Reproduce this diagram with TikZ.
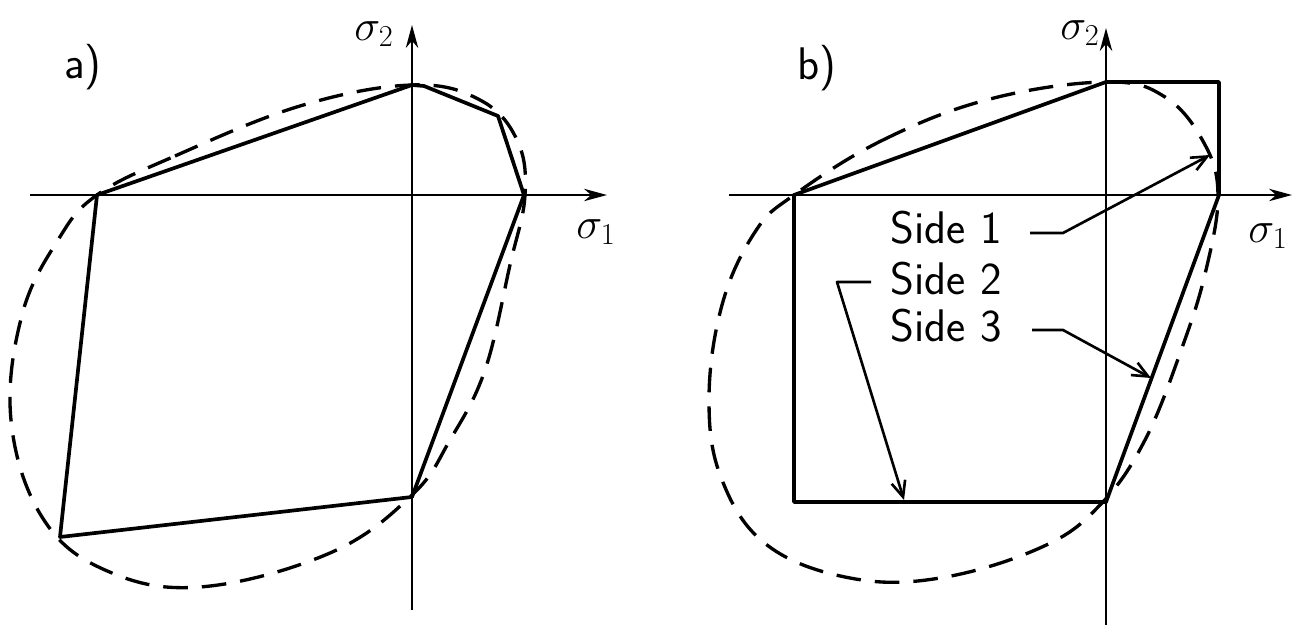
\documentclass[tikz,border=0pt]{standalone}
\usepackage{fontspec}
\usetikzlibrary{arrows.meta}
\begin{document}
\begin{tikzpicture}[x=0.02cm,y=-0.02cm,
  axis/.style={line width=1.6pt,-{Stealth[length=13pt,width=7pt,inset=4pt]}},
  edge/.style={line width=2.1pt,line join=round,line cap=round},
  env/.style={line width=1.9pt,dash pattern=on 14pt off 8pt},
  leader/.style={line width=1.5pt,line join=round,-{Straight Barb[length=9pt,width=8pt]}},
  lbl/.style={font=\sffamily\fontsize{26}{30}\selectfont,inner sep=0pt},
  sig/.style={font=\fontsize{27}{31}\selectfont,inner sep=0pt}]
\useasboundingbox (0,0) rectangle (1302,641);

% ---------- panel a ----------
\coordinate (aYb) at (412,610);
\coordinate (aYt) at (412,25);
\coordinate (aXl) at (30,195);
\coordinate (aXr) at (607,195);
\draw[axis] (aYb) -- (aYt);
\draw[axis] (aXl) -- (aXr);
\node[sig] (as2) at (374,34) {$\sigma_2$};
\node[sig] (as1) at (596,232) {$\sigma_1$};
\node[lbl] (alab) at (83,67) {a)};

\coordinate (a1) at (97,195);
\coordinate (a2) at (412,85);
\coordinate (a2b) at (424,86);
\coordinate (a3) at (498,116);
\coordinate (a4) at (524,195);
\coordinate (a5) at (412,497);
\coordinate (a6) at (60,537);
\draw[edge] (a1) -- (a2) -- (a2b) -- (a3) -- (a4) -- (a5) -- (a6) -- cycle;

\draw[env] plot[smooth cycle, tension=0.65] coordinates {
 (97,195) (175,156) (300,106) (412,85) (480,100) (517,140) (525,195)
 (510,265) (485,370) (450,440) (412,495) (330,553) (200,587) (105,570)
 (42,517) (11,420) (22,315) (58,240)};

% ---------- panel b ----------
\coordinate (bYb) at (1106,625);
\coordinate (bYt) at (1106,28);
\coordinate (bXl) at (729,195);
\coordinate (bXr) at (1292,195);
\draw[axis] (bYb) -- (bYt);
\draw[axis] (bXl) -- (bXr);
\node[sig] (bs2) at (1080,33) {$\sigma_2$};
\node[sig] (bs1) at (1268,236) {$\sigma_1$};
\node[lbl] (blab) at (817,68) {b)};

\coordinate (b1) at (794,195);
\coordinate (b2) at (1106,82);
\coordinate (b3) at (1219,82);
\coordinate (b4) at (1219,195);
\coordinate (b5) at (1106,502);
\coordinate (b6) at (794,502);
\draw[edge] (b1) -- (b2) -- (b3) -- (b4) -- (b5);
\draw[edge] (b1) -- (b6) -- (b5);

\draw[env] plot[smooth cycle, tension=0.65] coordinates {
 (794,195) (883,140) (990,99) (1106,82) (1165,97) (1204,143) (1218,195)
 (1206,270) (1183,345) (1145,440) (1100,505) (1042,547) (940,578)
 (850,578) (767,545) (722,480) (709,400) (722,305) (755,232)};

\node[lbl] (side1) at (946,228) {Side 1};
\node[lbl] (side2) at (946,279) {Side 2};
\node[lbl] (side3) at (946,326) {Side 3};

\coordinate (s1a) at (1030,233);
\coordinate (s1k) at (1063,233);
\coordinate (s1t) at (1210,155);
\draw[leader] (s1a) -- (s1k) -- (s1t);

\coordinate (s2a) at (871,282);
\coordinate (s2k) at (837,282);
\coordinate (s2t) at (904,500);
\draw[leader] (s2a) -- (s2k) -- (s2t);

\coordinate (s3a) at (1032,330);
\coordinate (s3k) at (1063,330);
\coordinate (s3t) at (1151,378);
\draw[leader] (s3a) -- (s3k) -- (s3t);
\end{tikzpicture}
\end{document}
